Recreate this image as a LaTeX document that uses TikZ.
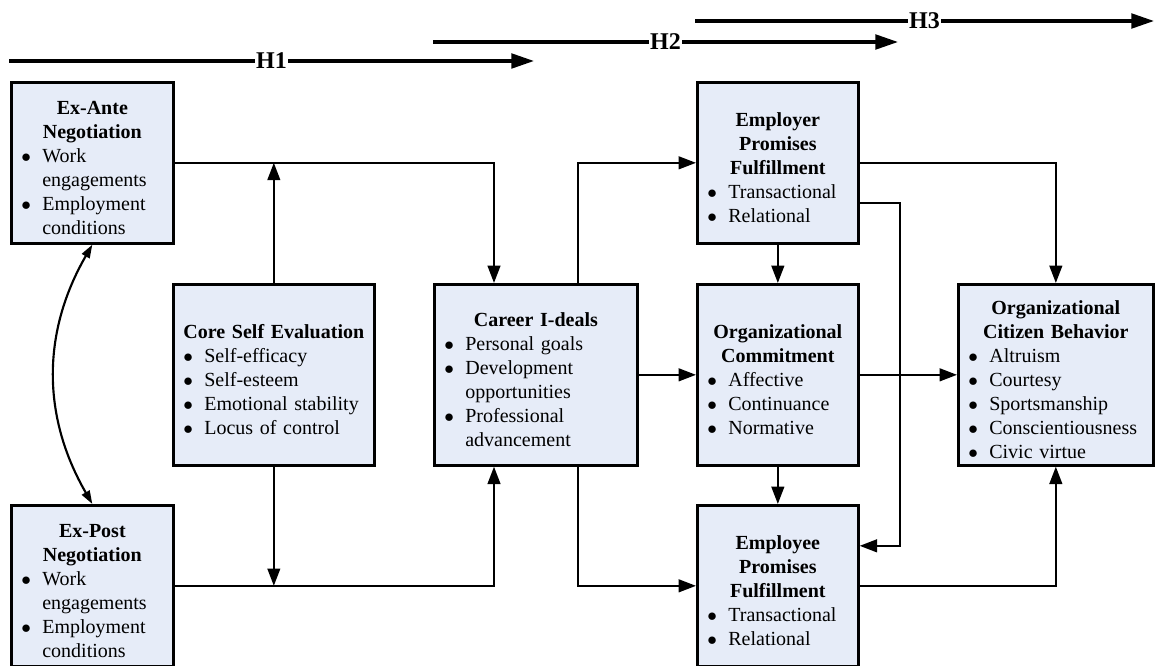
\documentclass[tikz,border=0pt]{standalone}
\usepackage{fontspec}
\setmainfont{Liberation Serif}
\usepackage{tikz}
\usetikzlibrary{arrows.meta, positioning}
\definecolor{boxfill}{RGB}{230,236,248}
\tikzset{
        x=0.75pt, y=0.75pt, % one unit is one pixel of the drawing
        link/.style={line width=1.6pt, -{Triangle[length=13pt,width=9.5pt]}}, % arrows between the boxes
        dlink/.style={line width=1.6pt, {Triangle[length=10pt,width=6.5pt]}-{Triangle[length=10pt,width=6.5pt]}}, % two-headed arrow
        hyp/.style={line width=2.4pt, -{Triangle[length=17pt,width=11pt]}}, % hypothesis arrows on top
    }
\tikzstyle{block}=[draw,line width=2pt,fill=boxfill,anchor=north west,inner xsep=7.5pt,inner ysep=0pt,align=left,font=\fontsize{15}{18}\selectfont]
\tikzstyle{hlabel}=[fill=white,inner sep=1pt,font=\fontsize{18}{20}\selectfont\bfseries]
\newcommand{\ttl}[1]{\par\noindent\makebox[\hsize]{\bfseries #1}\par}
\newcommand{\itm}[1]{\par\noindent\hangindent=15.75pt\hangafter=1\makebox[15.75pt][l]{$\bullet$}#1\par}

\begin{document}
\begin{tikzpicture}
    \useasboundingbox (0,0) rectangle (1156,-666);
    % hypotheses
    \coordinate (h1s) at (9,-61);
    \coordinate (h1e) at (534,-61);
    \coordinate (h2s) at (433,-42);
    \coordinate (h2e) at (898,-42);
    \coordinate (h3s) at (695,-21);
    \coordinate (h3e) at (1154,-21);
    \draw[hyp] (h1s) -- (h1e) node[midway,hlabel] (h1) {H1};
    \draw[hyp] (h2s) -- (h2e) node[midway,hlabel] (h2) {H2};
    \draw[hyp] (h3s) -- (h3e) node[midway,hlabel] (h3) {H3};

    % boxes
    \node[block, text width=106.5pt, minimum height=120.75pt] (exante) at (10,-81)
    {\ttl{Ex-Ante}\ttl{Negotiation}\itm{Work\newline engagements}\itm{Employment\newline conditions}};
    \node[block, text width=106.5pt, minimum height=120.75pt] (expost) at (10,-504)
    {\ttl{Ex-Post}\ttl{Negotiation}\itm{Work\newline engagements}\itm{Employment\newline conditions}};
    \node[block, text width=135.75pt, minimum height=135.75pt] (cse) at (172,-283)
    {\ttl{Core Self Evaluation}\itm{Self-efficacy}\itm{Self-esteem}\itm{Emotional stability}\itm{Locus of control}};
    \node[block, text width=137.25pt, minimum height=135.75pt] (career) at (433,-283)
    {\ttl{Career I-deals}\itm{Personal goals}\itm{Development\newline opportunities}\itm{Professional\newline advancement}};
    \node[block, text width=105.75pt, minimum height=120.75pt] (employer) at (696,-81)
    {\ttl{Employer}\ttl{Promises}\ttl{Fulfillment}\itm{Transactional}\itm{Relational}};
    \node[block, text width=105.75pt, minimum height=135.75pt] (oc) at (696,-283)
    {\ttl{Organizational}\ttl{Commitment}\itm{Affective}\itm{Continuance}\itm{Normative}};
    \node[block, text width=105.75pt, minimum height=120.75pt] (employee) at (696,-504)
    {\ttl{Employee}\ttl{Promises}\ttl{Fulfillment}\itm{Transactional}\itm{Relational}};
    \node[block, text width=131.25pt, minimum height=135.75pt] (ocb) at (957,-283)
    {\ttl{Organizational}\ttl{Citizen Behavior}\itm{Altruism}\itm{Courtesy}\itm{Sportsmanship}\itm{Conscientiousness}\itm{Civic virtue}};

    % connectors
    \draw[dlink] (exante.south) to[bend right=30] (expost.north);
    \draw[link] (exante.east) -| ([xshift=45.75pt]career.north west);
    \draw[link] (cse.north) -- (cse.north |- exante.east);
    \draw[link] (cse.south) -- (cse.south |- expost.east);
    \draw[link] (expost.east) -| ([xshift=45.75pt]career.south west);
    \draw[link] ([xshift=-45.75pt]career.north east) |- (employer.west);
    \draw[link] (career.east) -- (oc.west);
    \draw[link] ([xshift=-45.75pt]career.south east) |- (employee.west);
    \draw[link] (employer.south) -- (oc.north);
    \draw[link] (oc.south) -- (employee.north);
    \draw[link] ([yshift=-30pt]employer.east) -- ++(40,0) |- ([yshift=30pt]employee.east);
    \draw[link] (employer.east) -| (ocb.north);
    \draw[link] (oc.east) -- (ocb.west);
    \draw[link] (employee.east) -| (ocb.south);
\end{tikzpicture}
\end{document}
